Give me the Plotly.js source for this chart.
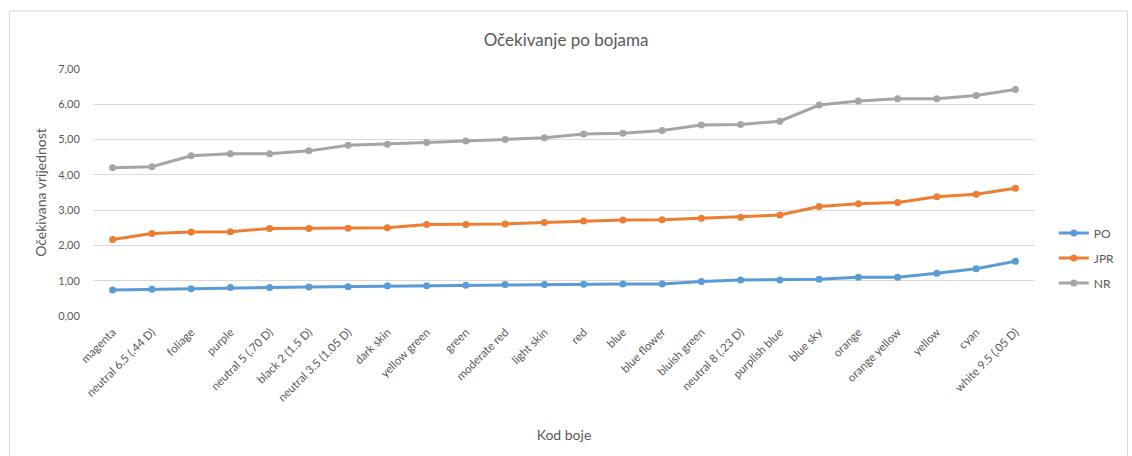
<!DOCTYPE html>
<html>
<head>
<meta charset="utf-8">
<script src="https://cdn.plot.ly/plotly-3.0.1.min.js"></script>
<style>html,body{margin:0;padding:0;background:#fff;}#chart{width:1132px;height:456px;}</style>
</head>
<body>
<div id="chart"></div>
<script>
const categories = ["magenta","neutral 6.5 (.44 D)","foliage","purple","neutral 5 (.70 D)","black 2 (1.5 D)","neutral 3.5 (1.05 D)","dark skin","yellow green","green","moderate red","light skin","red","blue","blue flower","bluish green","neutral 8 (.23 D)","purplish blue","blue sky","orange","orange yellow","yellow","cyan","white 9.5 (.05 D)"];
const PO  = [0.74,0.76,0.77,0.81,0.81,0.82,0.83,0.86,0.86,0.87,0.89,0.89,0.90,0.91,0.91,0.98,1.02,1.02,1.04,1.10,1.10,1.21,1.34,1.55];
const JPR = [2.17,2.34,2.38,2.39,2.48,2.48,2.49,2.50,2.59,2.59,2.61,2.65,2.69,2.72,2.73,2.77,2.80,2.86,3.10,3.18,3.22,3.38,3.45,3.62];
const NR  = [4.20,4.23,4.54,4.60,4.60,4.68,4.84,4.87,4.92,4.96,5.00,5.05,5.16,5.18,5.26,5.41,5.43,5.52,5.98,6.09,6.16,6.16,6.25,6.42];
const seriesNames = ["PO","JPR","NR"];
const seriesColors = ["#5B9BD5","#ED7D31","#A5A5A5"];
const seriesData = [PO, JPR, NR];

const traces = seriesData.map((vals, i) => ({
  type: 'scatter', mode: 'lines+markers', name: seriesNames[i],
  legendgroup: 'g' + i,
  x: categories, y: vals,
  line: {color: seriesColors[i], width: 3},
  marker: {color: seriesColors[i], size: 7}
}));

const layout = {
  width: 1132, height: 456,
  margin: {l: 93, r: 81, t: 69, b: 140},
  paper_bgcolor: '#fff', plot_bgcolor: '#fff',
  font: {family: 'Lato, "Open Sans", sans-serif', color: '#595959', size: 11},
  separators: ',.',
  title: {text: 'Očekivanje po bojama', font: {size: 17, color: '#595959'}, x: 0.5, xanchor: 'center', y: 1 - 40/456, yanchor: 'middle'},
  xaxis: {
    type: 'category', range: [-0.5, 23.5], tickangle: -45,
    showgrid: false, zeroline: false, showline: false, ticks: 'outside', ticklen: 4, tickcolor: '#fff',
    tickfont: {size: 11.5, color: '#595959'},
    title: {text: 'Kod boje', font: {size: 14, color: '#595959'}, standoff: 27}
  },
  yaxis: {
    range: [0, 7], dtick: 1, tickformat: '.2f',
    showgrid: true, gridcolor: '#d9d9d9', gridwidth: 1, zeroline: false, showline: false,
    tickfont: {size: 11, color: '#595959'}, ticklen: 10, ticks: 'outside', tickcolor: '#fff',
    title: {text: 'Očekivana vrijednost', font: {size: 14, color: '#595959'}, standoff: 8}
  },
  legend: {x: 1.02, xanchor: 'left', y: (316-258)/247, yanchor: 'middle', font: {size: 12, color: '#595959'}, tracegroupgap: 6, itemwidth: 30},
  shapes: [{
    type: 'rect', xref: 'paper', yref: 'paper',
    x0: (8-93)/958, x1: (1145-93)/958, y0: (316-470)/247, y1: (316-11)/247,
    line: {color: '#d9d9d9', width: 1}, fillcolor: 'rgba(0,0,0,0)', layer: 'below'
  }],
  showlegend: true
};

Plotly.newPlot('chart', traces, layout, {displayModeBar: false, staticPlot: true});
</script>
</body>
</html>
